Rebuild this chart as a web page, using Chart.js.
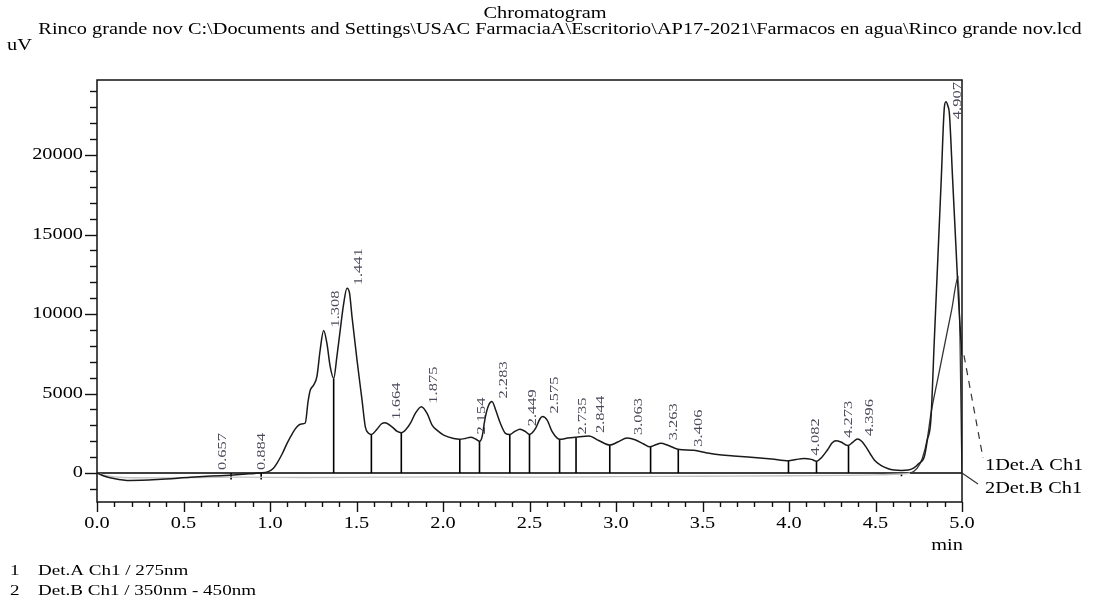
<!DOCTYPE html>
<html><head><meta charset="utf-8">
<script src="https://cdn.jsdelivr.net/npm/chart.js@4.4.1/dist/chart.umd.min.js"></script>
<style>html,body{margin:0;padding:0;background:#fff}canvas{display:block}</style>
</head><body>
<canvas id="c" width="1095" height="600"></canvas>
<script>
// ---- data (minutes, uV) ----
const timeA = [0.00,0.04,0.09,0.19,0.35,0.54,0.66,0.77,0.88,0.94,0.99,1.02,1.04,1.07,1.10,1.13,1.156,1.18,1.204,1.22,1.233,1.252,1.271,1.29,1.31,1.329,1.348,1.368,1.387,1.406,1.425,1.445,1.46,1.474,1.503,1.532,1.551,1.57,1.586,1.618,1.645,1.665,1.705,1.735,1.759,1.79,1.811,1.84,1.875,1.908,1.937,1.97,2.004,2.062,2.097,2.13,2.16,2.19,2.212,2.226,2.245,2.265,2.283,2.305,2.332,2.361,2.386,2.415,2.445,2.475,2.50,2.535,2.56,2.575,2.602,2.631,2.66,2.675,2.72,2.77,2.843,2.90,2.965,3.01,3.065,3.11,3.16,3.196,3.23,3.258,3.30,3.358,3.45,3.52,3.586,3.68,3.78,3.90,3.997,4.04,4.085,4.13,4.159,4.19,4.222,4.25,4.271,4.30,4.339,4.37,4.395,4.42,4.444,4.47,4.493,4.531,4.57,4.608,4.65,4.69,4.722,4.75,4.782,4.80,4.82,4.84,4.86,4.88,4.898,4.907,4.918,4.927,4.946,4.965,4.984,4.994,5.00];
const signalA = [0,-180,-320,-470,-410,-270,-190,-130,-50,0,90,300,610,1200,1900,2500,2910,3080,3150,4500,5220,5530,6060,7740,8960,8150,6690,5950,7360,9000,10590,11620,11300,9830,7100,4590,2910,2500,2430,2750,3100,3170,2910,2620,2540,2800,3120,3750,4170,3750,3020,2650,2390,2180,2130,2180,2250,2130,2000,2280,3540,4300,4500,3950,3120,2500,2430,2620,2750,2620,2430,2810,3400,3550,3330,2600,2200,2120,2200,2260,2330,2050,1760,1950,2200,2100,1830,1650,1780,1870,1750,1500,1430,1280,1160,1080,990,880,775,850,920,860,740,1000,1450,1900,2030,1950,1730,1950,2140,2000,1660,1200,820,480,290,190,160,190,320,600,1025,2080,3330,8370,13410,18460,23000,23350,23100,22620,18430,14230,10060,8360,7400];
const timeB = [0.00,0.05,0.15,0.40,0.80,1.20,1.60,2.00,2.50,3.00,3.50,4.00,4.50,4.65,4.70,4.74,4.77,4.80,4.82,4.86,4.90,4.94,4.979,5.00];
const signalB = [0,-150,-280,-300,-260,-280,-260,-240,-250,-230,-200,-170,-120,-60,0,300,900,2200,3700,5930,8090,10250,12350,0];
const peakTimes = [0.657,0.884,1.308,1.441,1.664,1.875,2.154,2.283,2.449,2.575,2.735,2.844,3.063,3.263,3.406,4.082,4.273,4.396,4.907];
const peakHeights = [-190,-50,8960,11620,3170,4170,2230,4500,2750,3550,2230,2330,2200,1870,1470,920,2030,2140,23350];
const peakNames = ['0.657','0.884','1.308','1.441','1.664','1.875','2.154','2.283','2.449','2.575','2.735','2.844','3.063','3.263','3.406','4.082','4.273','4.396','4.907'];
const dropTimes = [0.775,0.949,1.368,1.586,1.759,2.097,2.211,2.386,2.500,2.674,2.769,2.964,3.200,3.360,3.997,4.159,4.344,4.65];
const dropHeights = [-400,-400,5950,2430,2540,2130,2010,2430,2430,2120,2260,1760,1660,1500,775,740,1730,-200];
const xTickValues = [0,0.5,1,1.5,2,2.5,3,3.5,4,4.5,5];
const xTickLabels = ['0.0','0.5','1.0','1.5','2.0','2.5','3.0','3.5','4.0','4.5','5.0'];
const yTickValues = [0,5000,10000,15000,20000];
const yTickLabels = ['0','5000','10000','15000','20000'];
const channelTags = ['1Det.A Ch1','2Det.B Ch1'];
const channelNums = ['1','2'];
const channelDesc = ['Det.A Ch1 / 275nm','Det.B Ch1 / 350nm - 450nm'];
const titleText = 'Chromatogram';
const subtitleText = 'Rinco grande nov C:\\Documents and Settings\\USAC FarmaciaA\\Escritorio\\AP17-2021\\Farmacos en agua\\Rinco grande nov.lcd';
const yUnit = 'uV';
const xUnit = 'min';

// ---- helpers ----
const SX = 1.27;
const SERIF = '"Liberation Serif", "Times New Roman", serif';
function stext(ctx, txt, x, y, align, size, color) {
  ctx.save();
  ctx.font = size + 'px ' + SERIF;
  ctx.fillStyle = color || '#000';
  ctx.textAlign = align;
  ctx.textBaseline = 'middle';
  ctx.translate(x, y);
  ctx.scale(SX, 1);
  ctx.fillText(txt, 0, 0);
  ctx.restore();
}

const dropData = [];
dropTimes.forEach((t, i) => {
  dropData.push({x: t, y: 0}, {x: t, y: dropHeights[i]}, {x: t, y: null});
});

const decor = {
  id: 'decor',
  afterDraw(chart) {
    const ctx = chart.ctx;
    const a = chart.chartArea;
    const xs = chart.scales.x, ys = chart.scales.y;
    ctx.save();
    // frame
    ctx.strokeStyle = '#111';
    ctx.lineWidth = 1.5;
    ctx.strokeRect(a.left, a.top, a.right - a.left, a.bottom - a.top);
    // y ticks
    ctx.lineWidth = 1.4;
    for (let v = -1000; v <= 24000; v += 1000) {
      const p = Math.round(ys.getPixelForValue(v)) + 0.5;
      const len = (v % 5000 === 0) ? 12 : 7;
      ctx.beginPath(); ctx.moveTo(a.left, p); ctx.lineTo(a.left - len, p); ctx.stroke();
    }
    // x ticks
    for (let i = 0; i <= 50; i++) {
      const p = Math.round(xs.getPixelForValue(i / 10)) + 0.5;
      const len = (i % 5 === 0) ? 10 : 5;
      ctx.beginPath(); ctx.moveTo(p, a.bottom); ctx.lineTo(p, a.bottom + len); ctx.stroke();
    }
    ctx.restore();
    // tick labels
    yTickValues.forEach((v, i) => stext(ctx, yTickLabels[i], a.left - 14, ys.getPixelForValue(v), 'right', 16));
    xTickValues.forEach((v, i) => stext(ctx, xTickLabels[i], xs.getPixelForValue(v), a.bottom + 22, 'center', 16));
    stext(ctx, xUnit, a.right - 15, a.bottom + 44, 'center', 16);
    stext(ctx, yUnit, 7, 46, 'left', 16);
    // titles
    stext(ctx, titleText, 545, 14, 'center', 16);
    stext(ctx, subtitleText, 560, 30, 'center', 16);
    // peak labels
    ctx.save();
    ctx.font = '13px ' + SERIF;
    ctx.fillStyle = '#4a4a5a';
    peakTimes.forEach((t, i) => {
      const w = ctx.measureText(peakNames[i]).width * SX;
      const px = xs.getPixelForValue(t) + 12;
      let py = ys.getPixelForValue(Math.max(peakHeights[i], 0)) - 3;
      if (py - w < a.top + 2) py = a.top + 2 + w;
      ctx.save();
      ctx.translate(px, py);
      ctx.rotate(-Math.PI / 2);
      ctx.scale(SX, 1);
      ctx.textAlign = 'left';
      ctx.textBaseline = 'middle';
      ctx.fillText(peakNames[i], 0, 0);
      ctx.restore();
    });
    ctx.restore();
    // channel leaders and tags
    ctx.save();
    ctx.strokeStyle = '#333';
    ctx.lineWidth = 1.2;
    const ax = xs.getPixelForValue(5), ay = ys.getPixelForValue(signalA[signalA.length - 1]);
    ctx.setLineDash([7, 6]);
    ctx.beginPath(); ctx.moveTo(ax + 2, ay); ctx.lineTo(983, 458); ctx.stroke();
    ctx.setLineDash([]);
    const by = ys.getPixelForValue(0);
    ctx.beginPath(); ctx.moveTo(ax, by); ctx.lineTo(978, 484); ctx.stroke();
    ctx.restore();
    stext(ctx, channelTags[0], 985, 466, 'left', 16);
    stext(ctx, channelTags[1], 985, 489, 'left', 16);
    // bottom legend
    channelNums.forEach((n, i) => {
      stext(ctx, n, 10, 571 + i * 20, 'left', 15);
      stext(ctx, channelDesc[i], 38, 571 + i * 20, 'left', 15);
    });
  }
};

new Chart(document.getElementById('c'), {
  type: 'line',
  data: {
    datasets: [
      { label: 'Det.A Ch1', data: timeA.map((t, i) => ({x: t, y: signalA[i]})),
        borderColor: '#1a1a1a', borderWidth: 1.5, pointRadius: 0, cubicInterpolationMode: 'monotone' },
      { label: 'Det.B Ch1', data: timeB.map((t, i) => ({x: t, y: signalB[i]})),
        borderColor: '#bbb', borderWidth: 1.3, pointRadius: 0, cubicInterpolationMode: 'monotone',
        segment: { borderColor: c => (c.p0.parsed.y > 200 || c.p1.parsed.y > 200) ? '#333' : '#c4c4c4' } },
      { label: 'baseline', data: [{x: 0, y: 0}, {x: 5, y: 0}], borderColor: '#000', borderWidth: 1.6, pointRadius: 0 },
      { label: 'drops', data: dropData, borderColor: '#000', borderWidth: 1.6, pointRadius: 0, spanGaps: false, tension: 0 }
    ]
  },
  options: {
    responsive: false,
    animation: false,
    layout: { padding: { left: 97, top: 80, right: 133, bottom: 98 } },
    scales: {
      x: { type: 'linear', min: 0, max: 5, display: false },
      y: { type: 'linear', min: -1820, max: 24720, display: false }
    },
    plugins: { legend: { display: false }, tooltip: { enabled: false } }
  },
  plugins: [decor]
});
</script>
</body></html>
